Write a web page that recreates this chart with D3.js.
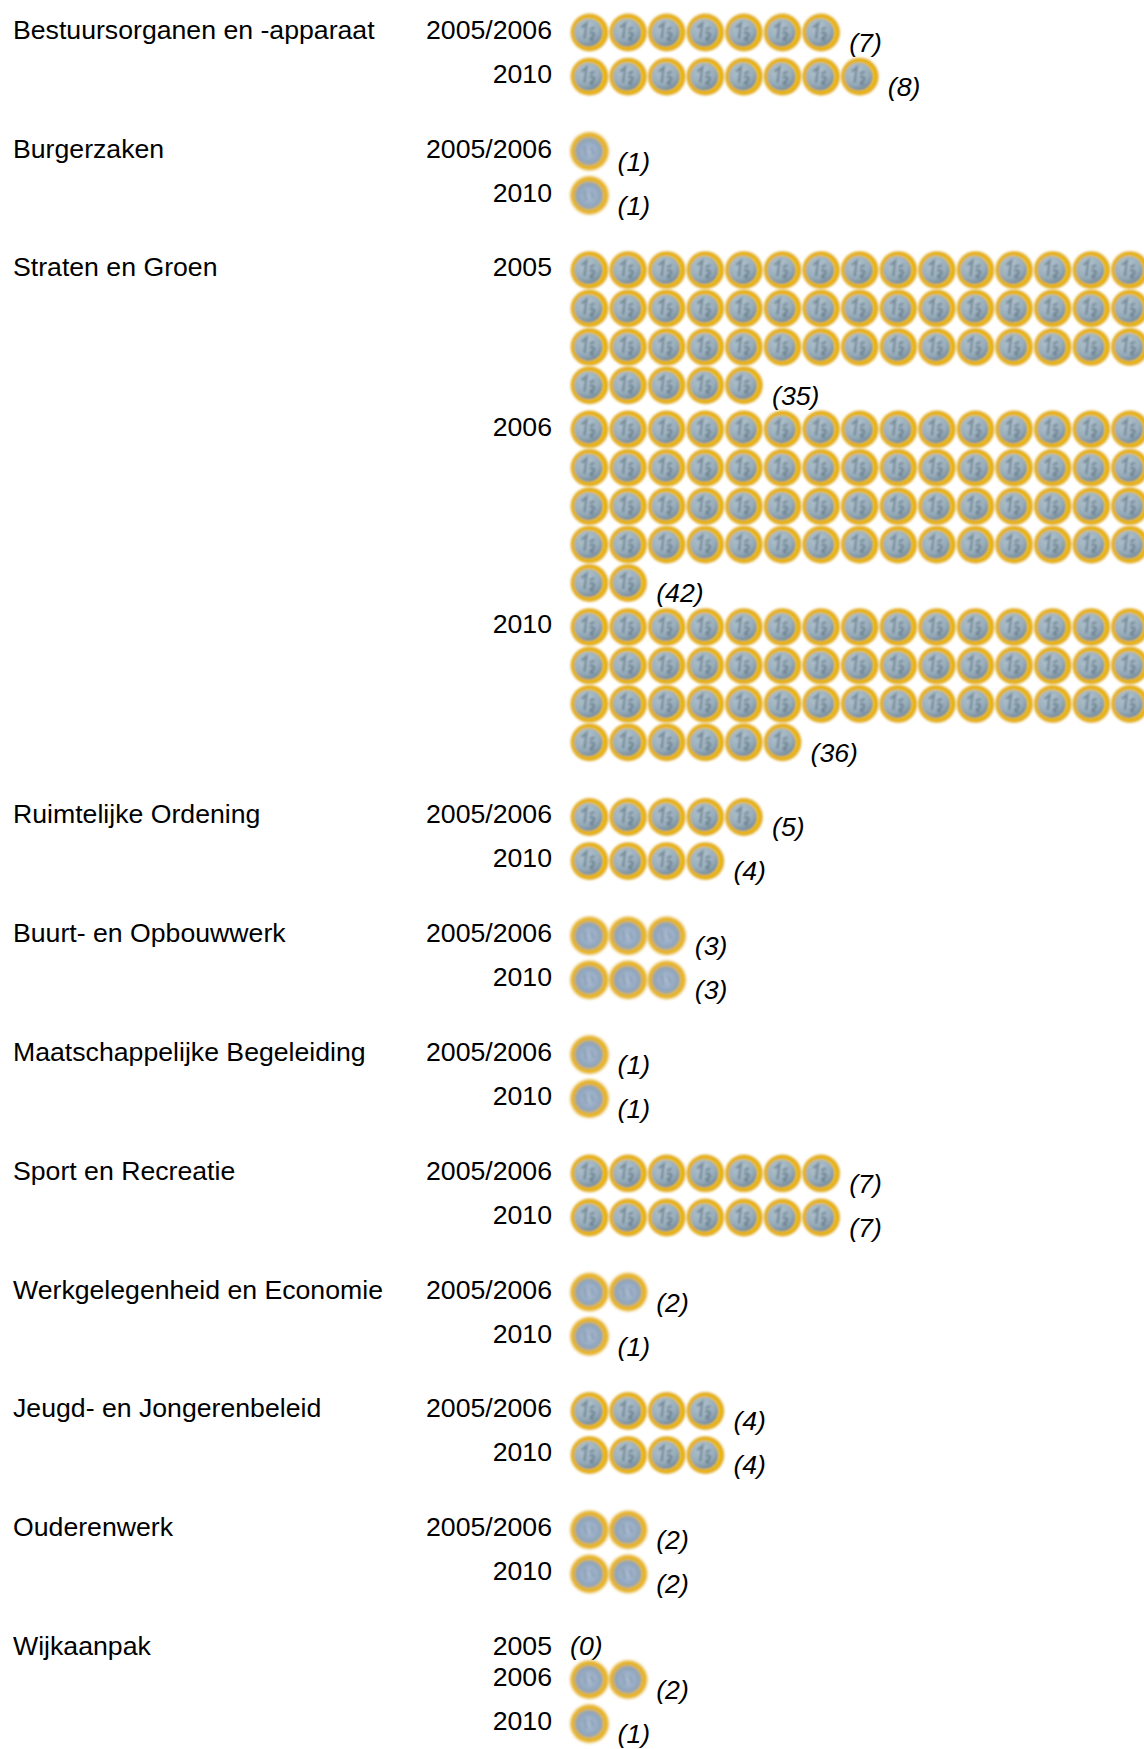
<!DOCTYPE html>
<html>
<head>
<meta charset="utf-8">
<script src="https://cdn.jsdelivr.net/npm/d3@7/dist/d3.min.js"></script>
<style>
html, body { margin: 0; padding: 0; background: #fff; }
svg { display: block; }
text { font-family: "Liberation Sans", Arial, sans-serif; fill: #000; }
</style>
</head>
<body>
<svg width="1144" height="1749"></svg>
<script>
const categories = ["Bestuursorganen en -apparaat", "Burgerzaken", "Straten en Groen", "Ruimtelijke Ordening", "Buurt- en Opbouwwerk", "Maatschappelijke Begeleiding", "Sport en Recreatie", "Werkgelegenheid en Economie", "Jeugd- en Jongerenbeleid", "Ouderenwerk", "Wijkaanpak"];
const years = [
    ["2005/2006", "2010"], ["2005/2006", "2010"], ["2005", "2006", "2010"],
    ["2005/2006", "2010"], ["2005/2006", "2010"], ["2005/2006", "2010"],
    ["2005/2006", "2010"], ["2005/2006", "2010"], ["2005/2006", "2010"],
    ["2005/2006", "2010"], ["2005", "2006", "2010"]
];
const values = [[7, 8], [1, 1], [35, 42, 36], [5, 4], [3, 3], [1, 1], [7, 7], [2, 1], [4, 4], [2, 2], [0, 2, 1]];
// coins actually shown in the picture, the long rows run off the page
const coinCounts = [[7, 8], [1, 1], [50, 62, 51], [5, 4], [3, 3], [1, 1], [7, 7], [2, 1], [4, 4], [2, 2], [0, 2, 1]];
// groups where the coin picture is scaled up and looks blurrier
const blurryGroups = ["Burgerzaken", "Buurt- en Opbouwwerk", "Maatschappelijke Begeleiding", "Werkgelegenheid en Economie", "Ouderenwerk", "Wijkaanpak"];

const perRow = 15;
const coinStep = 38.6;
const rowStep = 38.4;
const groupGap = 30.6;
const rowGap = 5.7;
const emptyRow = 31;

const svg = d3.select("svg");
const fontSize = 26.67;

const x = d3.scaleLinear().domain([0, perRow]).range([570, 570 + perRow * coinStep]);

// coin drawings, reused for every mark
const defs = svg.append("defs");
const gold = defs.append("radialGradient").attr("id", "gold").attr("cx", "50%").attr("cy", "50%").attr("r", "50%");
gold.append("stop").attr("offset", "72%").attr("stop-color", "#f5c400");
gold.append("stop").attr("offset", "88%").attr("stop-color", "#e2a80f");
gold.append("stop").attr("offset", "100%").attr("stop-color", "#e9c86e");
const silver = defs.append("radialGradient").attr("id", "silver").attr("cx", "40%").attr("cy", "30%").attr("r", "80%");
silver.append("stop").attr("offset", "0%").attr("stop-color", "#b4c5d0");
silver.append("stop").attr("offset", "60%").attr("stop-color", "#98adbb");
silver.append("stop").attr("offset", "100%").attr("stop-color", "#637b8e");
const mottled = defs.append("radialGradient").attr("id", "mottled").attr("cx", "50%").attr("cy", "50%").attr("r", "55%");
mottled.append("stop").attr("offset", "0%").attr("stop-color", "#b2c3d8");
mottled.append("stop").attr("offset", "70%").attr("stop-color", "#90a6bf");
mottled.append("stop").attr("offset", "100%").attr("stop-color", "#8a9ca0");
defs.append("filter").attr("id", "soft").append("feGaussianBlur").attr("stdDeviation", 1);
defs.append("filter").attr("id", "softer").append("feGaussianBlur").attr("stdDeviation", 1.5);

const coin = defs.append("g").attr("id", "coin").attr("filter", "url(#soft)");
coin.append("circle").attr("r", 19.2).attr("fill", "url(#gold)");
coin.append("circle").attr("r", 14).attr("cx", -1).attr("cy", 0).attr("fill", "url(#silver)");
coin.append("path")
    .attr("d", "M-8,-5 L-3,-9 L-5,6 M0,-3 L5,-5 M0,1 C4,-2 7,3 2,5 C0,6 1,8 4,7")
    .attr("fill", "none").attr("stroke", "#5d7282").attr("stroke-width", 2.4).attr("opacity", 0.7);

const coinBlurry = defs.append("g").attr("id", "coinBlurry").attr("filter", "url(#softer)");
coinBlurry.append("circle").attr("r", 19.4).attr("fill", "url(#gold)");
coinBlurry.append("circle").attr("r", 14).attr("cx", -0.5).attr("cy", 0).attr("fill", "url(#mottled)");
coinBlurry.append("path")
    .attr("d", "M-5,-5 L-3,5 M1,-4 L4,3")
    .attr("fill", "none").attr("stroke", "#6a8196").attr("stroke-width", 3).attr("opacity", 0.45);

let y = 29.5;
categories.forEach((name, i) => {
    const group = svg.append("g");
    const symbol = blurryGroups.includes(name) ? "#coinBlurry" : "#coin";
    group.append("text")
        .attr("x", 13).attr("y", y).attr("dy", "0.35em")
        .attr("font-size", fontSize)
        .text(name);

    years[i].forEach((year, j) => {
        const value = values[i][j];
        const count = coinCounts[i][j];
        const rows = Math.ceil(count / perRow);
        const cells = d3.range(count);

        group.append("text")
            .attr("x", 552).attr("y", y).attr("dy", "0.35em")
            .attr("text-anchor", "end")
            .attr("font-size", fontSize)
            .text(year);

        group.selectAll(null)
            .data(cells)
            .join("use")
            .attr("href", symbol)
            .attr("x", (d) => x(d % perRow) + 19.5)
            .attr("y", (d) => y + 3 + Math.floor(d / perRow) * rowStep);

        const last = count === 0 ? 0 : (count - 1) % perRow + 1;
        const lastRow = Math.max(rows - 1, 0);
        group.append("text")
            .attr("x", count === 0 ? x(0) : x(last) + 9)
            .attr("y", count === 0 ? y : y + lastRow * rowStep + 13)
            .attr("dy", "0.35em")
            .attr("font-size", fontSize)
            .attr("font-style", "italic")
            .text(`(${value})`);

        y += count === 0 ? emptyRow : rows * rowStep + rowGap;
    });
    y += groupGap;
});
</script>
</body>
</html>
